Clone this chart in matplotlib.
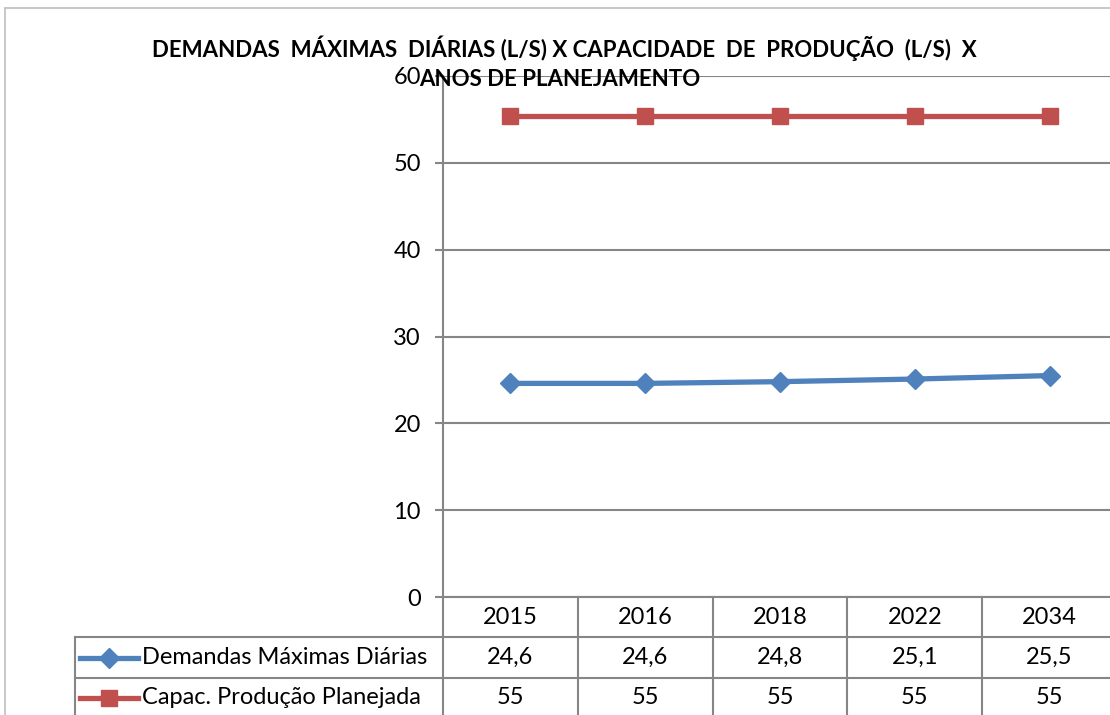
import matplotlib
matplotlib.use('Agg')
import matplotlib.pyplot as plt
from matplotlib.lines import Line2D
from matplotlib.transforms import blended_transform_factory

anos = ['2015', '2016', '2018', '2022', '2034']
demandas = [24.6, 24.6, 24.8, 25.1, 25.5]
capacidade = [55.4, 55.4, 55.4, 55.4, 55.4]
demandas_txt = ['24,6', '24,6', '24,8', '25,1', '25,5']
capacidade_txt = ['55', '55', '55', '55', '55']
series_nomes = ['Demandas Máximas Diárias', 'Capac. Produção Planejada']
titulo = ['DEMANDAS  MÁXIMAS  DIÁRIAS (L/S) X CAPACIDADE  DE  PRODUÇÃO  (L/S)  X',
          'ANOS DE PLANEJAMENTO']

azul = '#4F81BD'
vermelho = '#C0504D'
cinza = '#868686'
fonte = ['Lato', 'DejaVu Sans']
fs = 17

W, H = 1110, 715
fig = plt.figure(figsize=(W / 100, H / 100), dpi=100)

# plot area in pixels
left, right, top, bottom = 443, 1117, 76, 597
ax = fig.add_axes([left / W, 1 - bottom / H, (right - left) / W, (bottom - top) / H])

x = list(range(len(anos)))
ax.plot(x, demandas, color=azul, lw=3.8, marker='D', ms=10.5, zorder=3, clip_on=False)
ax.plot(x, capacidade, color=vermelho, lw=3.8, marker='s', ms=12, zorder=3, clip_on=False)

ax.set_xlim(-0.5, len(anos) - 0.5)
ax.set_ylim(0, 60)
ax.set_yticks(range(0, 61, 10))
ax.set_xticks([])
ax.grid(axis='y', color=cinza, lw=1.5)
ax.set_axisbelow(True)
for s in ['top', 'right', 'bottom']:
    ax.spines[s].set_visible(False)
ax.spines['left'].set_color(cinza)
ax.spines['left'].set_linewidth(1.5)
ax.tick_params(axis='y', length=6, width=1.5, color=cinza, pad=10, labelsize=fs)
for lab in ax.get_yticklabels():
    lab.set_family(fonte)

# data table below the plot
trans = blended_transform_factory(ax.transData, fig.transFigure)
fy = lambda py: 1 - py / H
fx = lambda px: px / W
linhas_y = [597, 637, 678, 718]
kw = dict(color=cinza, lw=1.5, clip_on=False)

for i in range(len(anos) + 1):
    ax.plot([i - 0.5, i - 0.5], [fy(597), fy(720)], transform=trans, **kw)
ax.plot([-0.5, len(anos) - 0.5], [fy(597), fy(597)], transform=trans, **kw)
for py in linhas_y[1:3]:
    fig.add_artist(Line2D([fx(75), fx(left)], [fy(py), fy(py)], **kw))
    ax.plot([-0.5, len(anos) - 0.5], [fy(py), fy(py)], transform=trans, **kw)
fig.add_artist(Line2D([fx(75), fx(75)], [fy(637), fy(720)], **kw))

linhas_txt = [anos, demandas_txt, capacidade_txt]
for r, vals in enumerate(linhas_txt):
    yc = (linhas_y[r] + linhas_y[r + 1]) / 2
    for i, v in enumerate(vals):
        ax.text(i, fy(yc), v, transform=trans, ha='center', va='center',
                fontsize=fs, family=fonte)

# legend keys inside the table
for r, (nome, cor, mk, ms) in enumerate(zip(series_nomes, [azul, vermelho], ['D', 's'], [10.5, 12])):
    yc = (linhas_y[r + 1] + linhas_y[r + 2]) / 2
    fig.add_artist(Line2D([fx(80), fx(138)], [fy(yc), fy(yc)], color=cor, lw=3.8))
    fig.add_artist(Line2D([fx(109)], [fy(yc)], color=cor, marker=mk, ms=ms, lw=0))
    fig.text(fx(142), fy(yc), nome, ha='left', va='center', fontsize=fs, family=fonte)

# title
fig.text(fx(564), fy(48), titulo[0], ha='center', va='center', fontsize=16,
         fontweight='bold', family=fonte)
fig.text(fx(560), fy(80), titulo[1], ha='center', va='center', fontsize=16,
         fontweight='bold', family=fonte)

# chart border
fig.add_artist(Line2D([fx(5), fx(1110)], [fy(8), fy(8)], color='#BFBFBF', lw=1.2))
fig.add_artist(Line2D([fx(5), fx(5)], [fy(8), fy(715)], color='#BFBFBF', lw=1.2))

fig.savefig('out.png', dpi=100)
